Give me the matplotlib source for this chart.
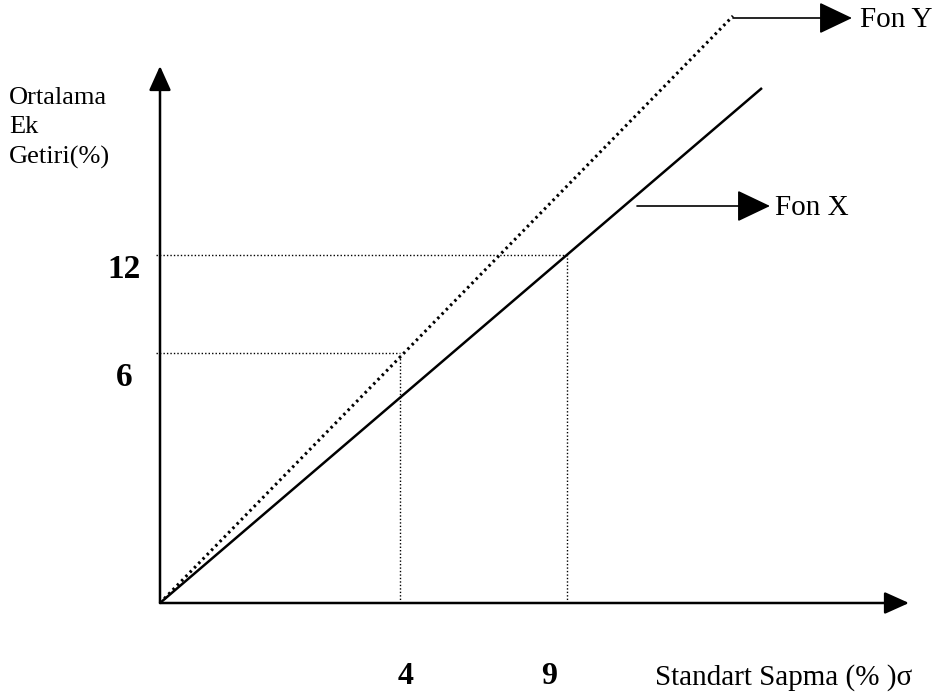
import matplotlib.pyplot as plt

# sematik grafik: birimler orijinden itibaren piksel cinsinden
x_tick_pos = [240, 407]
x_tick_labels = ['4', '9']
y_tick_pos = [250, 348]
y_tick_labels = ['6', '12']

fon_x_x = [0, 602]
fon_x_y = [0, 515]
fon_y_x = [0, 573]
fon_y_y = [0, 587]

plt.rcParams['font.family'] = ['Liberation Serif', 'DejaVu Serif']

fig = plt.figure(figsize=(9.41, 6.96), dpi=100)
ax = fig.add_axes([0, 0, 1, 1])
ax.set_xlim(-160, 781)
ax.set_ylim(-93, 603)
ax.axis('off')

ok = dict(arrowstyle='-|>,head_length=1.0,head_width=0.45', lw=1.8, color='black',
          mutation_scale=15, shrinkA=0, shrinkB=0)
# eksenler
ax.annotate('', xy=(749, 0), xytext=(0, 0), arrowprops=ok)
ax.annotate('', xy=(0, 537), xytext=(0, 0), arrowprops=ok)

# fon dogrulari
ax.plot(fon_x_x, fon_x_y, color='black', lw=1.8, solid_capstyle='butt')
ax.plot(fon_y_x, fon_y_y, color='black', lw=2.2, linestyle=(0, (0.8, 1.2)))

# kilavuz cizgiler
nokta = dict(color='black', lw=1, linestyle=(0, (1, 1.5)))
ax.plot([-4, x_tick_pos[1]], [y_tick_pos[1]] * 2, **nokta)
ax.plot([x_tick_pos[1]] * 2, [0, y_tick_pos[1]], **nokta)
ax.plot([-4, x_tick_pos[0]], [y_tick_pos[0]] * 2, **nokta)
ax.plot([x_tick_pos[0]] * 2, [0, y_tick_pos[0]], **nokta)

# etiket oklari
ok2 = dict(arrowstyle='-|>,head_length=1.05,head_width=0.5', lw=1.2, color='black',
           mutation_scale=20, shrinkA=0, shrinkB=0)
ax.annotate('', xy=(692, 585), xytext=(573, 585), arrowprops=ok2)
ax.text(700, 583, 'Fon Y', fontsize=21, va='center', ha='left')
ax.annotate('', xy=(610, 397), xytext=(477, 397), arrowprops=ok2)
ax.text(615, 395, 'Fon X', fontsize=21, va='center', ha='left')

# eksen etiketleri
for pos, lab, off in zip(y_tick_pos, y_tick_labels, [-25, -15]):
    ax.text(-36, pos + off, lab, fontsize=24, fontweight='bold', ha='center', va='center')
for pos, lab, off in zip(x_tick_pos, x_tick_labels, [6, -18]):
    ax.text(pos + off, -73, lab, fontsize=23, fontweight='bold', ha='center', va='center')

ax.text(-151, 516, 'Ortalama\nEk\nGetiri(%)', fontsize=19, ha='left', va='top', linespacing=1.42)
ax.text(495, -75, 'Standart Sapma (% )σ', fontsize=21, ha='left', va='center')

fig.savefig('out.png', dpi=100)
